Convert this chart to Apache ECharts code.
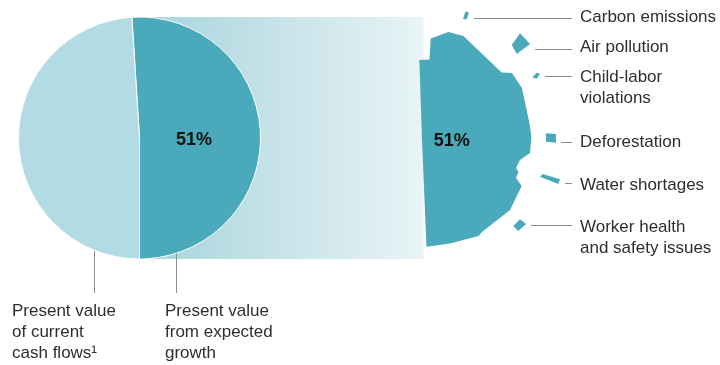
<!DOCTYPE html>
<html>
<head>
<meta charset="utf-8">
<script src="https://cdn.jsdelivr.net/npm/echarts@6/dist/echarts.min.js"></script>
<style>
  html, body { margin: 0; padding: 0; background: #fff; }
  #chart { width: 720px; height: 365px; }
</style>
</head>
<body>
<div id="chart"></div>
<script>
// Split of enterprise value: growth vs. current cash flows (percent)
const valueNames = ['Present value\nfrom expected\ngrowth', 'Present value\nof current\ncash flows\u00B9'];
const valueShares = [51, 49];

// Risks that chip away at the growth share
const riskNames = [
  'Carbon emissions',
  'Air pollution',
  'Child-labor\nviolations',
  'Deforestation',
  'Water shortages',
  'Worker health\nand safety issues'
];

// Outline of the growth share, as [radius, angle] pairs on the polar axes
const growthOutline = [
  [80.1, 358.1], [80.9, 5.3], [101.9, 4.9], [111.2, 13.7], [111.9, 21.7],
  [104.4, 49.7], [112.2, 53.3], [112.7, 62.5], [108.9, 82.6], [109.5, 88.4],
  [108.8, 96.9], [100.0, 101.5], [98.1, 106.6], [101.7, 108.4], [101.4, 112.0],
  [109.8, 114.8], [112.5, 128.5], [109.8, 146.9], [111.4, 149.5], [107.2, 164.9],
  [106.8, 177.6]
];

// Pieces broken off the growth share, one per risk, as [radius, angle] pairs
const carbonPiece = [[127.8, 18.7], [135.7, 18.7], [135.9, 20.2], [128.5, 20.3]];
const airPiece = [[130.7, 43.4], [144.9, 42.6], [144.5, 48.4], [127.9, 47.8]];
const childLaborPiece = [[126.9, 60.4], [133.0, 59.6], [135.2, 60.8], [130.1, 61.9]];
const deforestationPiece = [[124.2, 86.9], [134.1, 87.4], [134.0, 91.2], [124.0, 90.8]];
const waterPiece = [[123.6, 107.3], [125.4, 105.7], [143.5, 105.9], [143.2, 107.9]];
const workerPiece = [[125.4, 133.3], [126.1, 129.0], [133.7, 128.9], [132.5, 133.4]];
const riskPieces = [carbonPiece, airPiece, childLaborPiece, deforestationPiece, waterPiece, workerPiece];

const TEAL = '#4aa9bb';
const LIGHT = '#b3dbe3';
const TEXT = '#2e2e2e';
const RULE = '#8c8c8c';
const FONT = '"Liberation Sans", Arial, Helvetica, sans-serif';

// Callout layout for the risk labels
const calloutLineY = [18.3, 49.3, 76, 141.7, 182.7, 224.5];
const calloutTextY = [17.5, 47, 77, 142.5, 185, 227];
const calloutLineEnd = 572;
const calloutTextX = 580;
const lineH = 21;

const shapes = [growthOutline].concat(riskPieces);

const chart = echarts.init(document.getElementById('chart'), null, { renderer: 'canvas' });

chart.setOption({
  animation: false,
  backgroundColor: '#fff',
  polar: { center: [422, 140], radius: 110 },
  angleAxis: { type: 'value', min: 0, max: 360, startAngle: 90, clockwise: true, show: false },
  radiusAxis: { type: 'value', min: 0, max: 110, show: false },
  graphic: [
    {
      type: 'rect',
      z: -1,
      shape: { x: 140, y: 17, width: 283.5, height: 242 },
      style: {
        fill: {
          type: 'linear', x: 0, y: 0, x2: 1, y2: 0,
          colorStops: [{ offset: 0, color: '#a6d3dc' }, { offset: 1, color: '#e9f4f6' }]
        }
      }
    },
    { type: 'line', shape: { x1: 94.5, y1: 224, x2: 94.5, y2: 293 }, style: { stroke: RULE, lineWidth: 1 } },
    { type: 'line', shape: { x1: 176.5, y1: 224, x2: 176.5, y2: 293 }, style: { stroke: RULE, lineWidth: 1 } },
    {
      type: 'text', x: 12, y: 301,
      style: { text: valueNames[1], fill: TEXT, font: '17px ' + FONT, lineHeight: lineH, verticalAlign: 'top' }
    },
    {
      type: 'text', x: 165, y: 301,
      style: { text: valueNames[0], fill: TEXT, font: '17px ' + FONT, lineHeight: lineH, verticalAlign: 'top' }
    }
  ],
  series: [
    {
      type: 'pie',
      silent: true,
      center: [139.5, 138],
      radius: 121,
      startAngle: 90 + (valueShares[0] - 50) * 3.6,
      clockwise: true,
      avoidLabelOverlap: false,
      itemStyle: { borderColor: '#fff', borderWidth: 1 },
      labelLine: { show: false },
      label: {
        show: true,
        position: 'inside',
        formatter: '{c}%',
        color: '#111',
        fontFamily: FONT,
        fontSize: 18,
        fontWeight: 'bold'
      },
      labelLayout: { dx: -9, dy: 4 },
      emphasis: { disabled: true },
      data: [
        { value: valueShares[0], name: valueNames[0], itemStyle: { color: TEAL } },
        { value: valueShares[1], name: valueNames[1], itemStyle: { color: LIGHT }, label: { show: false } }
      ]
    },
    {
      type: 'custom',
      coordinateSystem: 'polar',
      silent: true,
      data: shapes.map((s, i) => [s[0][0], s[0][1], i]),
      encode: { radius: 0, angle: 1 },
      renderItem: function (params, api) {
        const i = params.dataIndex;
        const pts = shapes[i].map(p => api.coord(p));
        if (i === 0) {
          const body = [api.coord([0, 0])].concat(pts);
          const c = api.coord([29.7, 90]);
          return {
            type: 'group',
            children: [
              { type: 'polygon', shape: { points: body }, style: { fill: TEAL } },
              {
                type: 'text', x: c[0], y: c[1] + 1,
                style: {
                  text: valueShares[0] + '%', fill: '#111',
                  font: 'bold 18px ' + FONT, align: 'center', verticalAlign: 'middle'
                }
              }
            ]
          };
        }
        const k = i - 1;
        const maxX = Math.max.apply(null, pts.map(p => p[0]));
        const ly = Math.round(calloutLineY[k]) + 0.5;
        return {
          type: 'group',
          children: [
            { type: 'polygon', shape: { points: pts }, style: { fill: TEAL } },
            {
              type: 'line',
              shape: { x1: maxX + 5, y1: ly, x2: calloutLineEnd, y2: ly },
              style: { stroke: RULE, lineWidth: 1 }
            },
            {
              type: 'text', x: calloutTextX, y: calloutTextY[k] - lineH / 2,
              style: {
                text: riskNames[k], fill: TEXT, font: '17px ' + FONT,
                lineHeight: lineH, verticalAlign: 'top'
              }
            }
          ]
        };
      }
    }
  ]
});
</script>
</body>
</html>
